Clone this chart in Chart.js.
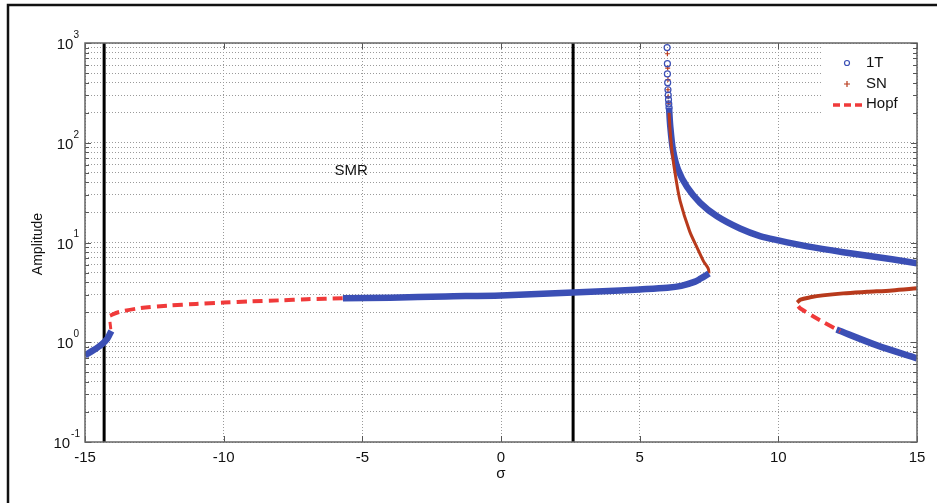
<!DOCTYPE html>
<html><head><meta charset="utf-8">
<script src="https://cdn.jsdelivr.net/npm/chart.js@4.4.1/dist/chart.umd.min.js"></script>
<style>html,body{margin:0;padding:0;background:#fff}#wrap{width:937px;height:503px;position:relative}</style>
</head><body><div id="wrap"><canvas id="c" width="937" height="503"></canvas></div>
<script>
// ---- data ----
const xTicks = [-15, -10, -5, 0, 5, 10, 15];
const yDecades = [0.1, 1, 10, 100, 1000];
const yDecadeExp = ['-1', '0', '1', '2', '3'];
const regionLines = [-14.31, 2.6];
const regionLabel = {text: 'SMR', x: -5.4, y: 52};

const blueLeftX = [-15, -14.7, -14.4, -14.2, -14.05];
const blueLeftY = [0.74, 0.83, 0.95, 1.08, 1.3];
const snLeftX = [-14.07, -14.1];
const snLeftY = [1.35, 1.6];
const hopfLeftX = [-14.1, -13.8, -13, -12, -11, -10, -9, -8, -7, -5.7];
const hopfLeftY = [1.85, 2.0, 2.2, 2.33, 2.42, 2.5, 2.57, 2.63, 2.7, 2.76];
const blueMidX = [-5.7, -4, -2, 0, 2.6, 4.3, 5, 6, 6.5, 7, 7.2, 7.4, 7.5];
const blueMidY = [2.76, 2.8, 2.88, 2.95, 3.15, 3.3, 3.38, 3.52, 3.68, 4.05, 4.35, 4.7, 4.9];
const snUpX = [7.5, 7.47, 7.3, 7.07, 6.8, 6.46, 6.3, 6.17, 6.1, 6.06];
const snUpY = [4.9, 5.5, 6.5, 8.9, 13, 26, 45, 80, 130, 200];
const snTopX = [6.0, 6.01, 6.02, 6.02, 6.03, 6.04];
const snTopY = [780, 560, 430, 340, 290, 250];
const blueTopX = [5.99, 6.0, 6.0, 6.01, 6.02, 6.03, 6.04, 6.05, 6.06];
const blueTopY = [900, 620, 490, 400, 340, 300, 270, 245, 225];
const blueUpX = [6.06, 6.1, 6.2, 6.38, 6.71, 7.18, 7.79, 8.62, 9.34, 10, 11, 12.34, 14.1, 15];
const blueUpY = [225, 150, 85, 54, 36, 25, 18.3, 13.8, 11.6, 10.5, 9.2, 8.0, 6.8, 6.2];
const snRightX = [10.68, 10.8, 11.15, 11.6, 12.34, 13.2, 14.1, 15];
const snRightY = [2.5, 2.68, 2.82, 2.95, 3.09, 3.2, 3.31, 3.47];
const hopfRightX = [10.72, 10.78, 11.5, 12.23];
const hopfRightY = [2.3, 2.19, 1.66, 1.29];
const blueRightX = [12.1, 13.56, 15];
const blueRightY = [1.34, 0.93, 0.69];
const legendItems = ['1T', 'SN', 'Hopf'];

const BLUE = '#3b4fb5', SNRED = '#b83a1c', HOPF = '#f03a3a';
const pts = (xs, ys) => xs.map((x, i) => ({x, y: ys[i]}));

function lineDs(xs, ys, color, width, dash) {
  return {data: pts(xs, ys), showLine: true, borderColor: color, backgroundColor: color,
    borderWidth: width, borderDash: dash || [], pointRadius: 0, tension: 0.3, fill: false};
}

const datasets = [
  lineDs(hopfLeftX, hopfLeftY, HOPF, 4, [10, 6]),
  lineDs(snLeftX, snLeftY, HOPF, 3),
  lineDs(blueLeftX, blueLeftY, BLUE, 6.5),
  lineDs(blueMidX, blueMidY, BLUE, 6.5),
  lineDs(snUpX, snUpY, SNRED, 3),
  lineDs(blueUpX, blueUpY, BLUE, 6.5),
  lineDs(snRightX, snRightY, SNRED, 4),
  lineDs(hopfRightX, hopfRightY, HOPF, 4, [10, 6]),
  lineDs(blueRightX, blueRightY, BLUE, 6.5),
  {data: pts(blueTopX, blueTopY), showLine: false, pointStyle: 'circle', pointRadius: 3,
   borderColor: BLUE, backgroundColor: 'rgba(0,0,0,0)', pointBorderWidth: 1.2},
  {data: pts(snTopX, snTopY), showLine: false, pointStyle: 'cross', pointRadius: 2.5,
   borderColor: SNRED, backgroundColor: SNRED, pointBorderWidth: 1.2},
];
regionLines.forEach(v => datasets.push({data: [{x: v, y: 0.1}, {x: v, y: 1000}], showLine: true,
  borderColor: '#000', borderWidth: 3, pointRadius: 0}));

const FONT = '"Liberation Sans", Arial, sans-serif';

const deco = {
  id: 'deco',
  beforeDatasetsDraw(chart) {
    const {ctx, chartArea: a, scales: {x, y}} = chart;
    ctx.save();
    ctx.strokeStyle = '#555'; ctx.lineWidth = 1;
    y.ticks.forEach(t => {
      const py = Math.round(y.getPixelForValue(t.value)) + 0.5;
      const len = yDecades.includes(t.value) ? 6 : 4;
      ctx.beginPath(); ctx.moveTo(a.left, py); ctx.lineTo(a.left + len, py);
      ctx.moveTo(a.right, py); ctx.lineTo(a.right - len, py); ctx.stroke();
    });
    xTicks.forEach(v => {
      const px = Math.round(x.getPixelForValue(v)) + 0.5;
      ctx.beginPath(); ctx.moveTo(px, a.bottom); ctx.lineTo(px, a.bottom - 6);
      ctx.moveTo(px, a.top); ctx.lineTo(px, a.top + 6); ctx.stroke();
    });
    ctx.restore();
  },
  afterDraw(chart) {
    const {ctx, chartArea: a, scales: {x, y}} = chart;
    ctx.save();
    ctx.strokeStyle = '#666'; ctx.lineWidth = 1.5;
    ctx.strokeRect(a.left, a.top, a.right - a.left, a.bottom - a.top);
    ctx.strokeStyle = '#111'; ctx.lineWidth = 2.5;
    ctx.beginPath(); ctx.moveTo(8, 503); ctx.lineTo(8, 5); ctx.lineTo(937, 5); ctx.stroke();
    ctx.fillStyle = '#111'; ctx.textBaseline = 'middle';
    yDecades.forEach((v, i) => {
      const py = y.getPixelForValue(v);
      const ex = yDecadeExp[i];
      ctx.font = '10px ' + FONT;
      const ew = ctx.measureText(ex).width;
      ctx.textAlign = 'left';
      ctx.fillText(ex, 79 - ew + (ex.length > 1 ? 1 : 0), py - 8);
      ctx.font = '15px ' + FONT; ctx.textAlign = 'right';
      ctx.fillText('10', 79 - ew, py + 2);
    });
    ctx.save(); ctx.translate(38, 244); ctx.rotate(-Math.PI / 2);
    ctx.font = '14px ' + FONT; ctx.textAlign = 'center'; ctx.textBaseline = 'middle';
    ctx.fillText('Amplitude', 0, 0); ctx.restore();
    ctx.font = '15px ' + FONT; ctx.textAlign = 'center'; ctx.textBaseline = 'middle';
    ctx.fillText('σ', (a.left + a.right) / 2, 474);
    ctx.fillText(regionLabel.text, x.getPixelForValue(regionLabel.x), y.getPixelForValue(regionLabel.y));
    // legend
    ctx.fillStyle = '#fff';
    ctx.fillRect(823, a.top + 1, a.right - 824, 72);
    ctx.strokeStyle = '#555'; ctx.lineWidth = 1;
    y.ticks.forEach(t => {
      const py = Math.round(y.getPixelForValue(t.value)) + 0.5;
      if (py < a.top + 73) { ctx.beginPath(); ctx.moveTo(a.right, py); ctx.lineTo(a.right - 4, py); ctx.stroke(); }
    });
    ctx.fillStyle = '#111'; ctx.font = '15px ' + FONT; ctx.textAlign = 'left'; ctx.textBaseline = 'middle';
    const ly = [63, 84, 104];
    legendItems.forEach((t, i) => ctx.fillText(t, 866, ly[i]));
    ctx.strokeStyle = BLUE; ctx.lineWidth = 1.2;
    ctx.beginPath(); ctx.arc(847, ly[0], 2.5, 0, Math.PI * 2); ctx.stroke();
    ctx.strokeStyle = SNRED; ctx.lineWidth = 1.2;
    ctx.beginPath(); ctx.moveTo(844, ly[1]); ctx.lineTo(850, ly[1]); ctx.moveTo(847, ly[1] - 3); ctx.lineTo(847, ly[1] + 3); ctx.stroke();
    ctx.strokeStyle = HOPF; ctx.lineWidth = 3.5; ctx.setLineDash([7, 4]);
    ctx.beginPath(); ctx.moveTo(833, ly[2] + 1); ctx.lineTo(864, ly[2] + 1); ctx.stroke();
    ctx.restore();
  }
};

new Chart(document.getElementById('c'), {
  type: 'scatter',
  data: {datasets},
  options: {
    responsive: false, animation: false, devicePixelRatio: 1,
    layout: {padding: {top: 43, right: 20, left: 0, bottom: 0}},
    plugins: {legend: {display: false}, tooltip: {enabled: false}},
    scales: {
      x: {
        type: 'linear', min: -15, max: 15,
        afterBuildTicks: s => { s.ticks = xTicks.map(v => ({value: v})); },
        afterFit: s => { s.height = 61; },
        grid: {color: '#9a9a9a', lineWidth: 1, drawTicks: false},
        border: {display: false, dash: [1, 2]},
        ticks: {color: '#111', font: {size: 15, family: FONT}, padding: 7, maxRotation: 0}
      },
      y: {
        type: 'logarithmic', min: 0.1, max: 1000,
        afterBuildTicks: s => {
          const t = [];
          [0.1, 1, 10, 100].forEach(d => { for (let k = 1; k <= 9; k++) t.push({value: +(d * k).toPrecision(3)}); });
          t.push({value: 1000});
          s.ticks = t;
        },
        afterFit: s => { s.width = 85; },
        grid: {color: '#9a9a9a', lineWidth: 1, drawTicks: false},
        border: {display: false, dash: [1, 2]},
        ticks: {display: false}
      }
    }
  },
  plugins: [deco]
});
</script></body></html>
